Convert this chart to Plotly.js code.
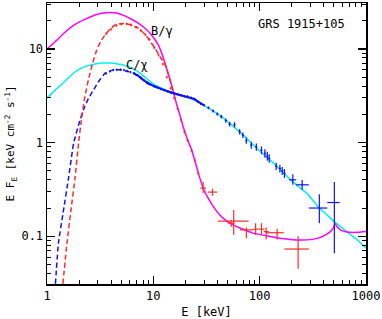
<!DOCTYPE html>
<html>
<head>
<meta charset="utf-8">
<script src="https://cdn.plot.ly/plotly-3.0.1.min.js"></script>
<style>html,body{margin:0;padding:0;background:#fff}#plot{width:382px;height:319px}</style>
</head>
<body>
<div id="plot"></div>
<script>
// ---- model curves ----
var magentaX = [1, 1.2, 1.45, 1.71, 2.0, 2.3, 2.84, 3.4, 3.9, 4.5, 5.4, 6.3, 7.2, 8.2, 9.3, 10.2, 11.1, 12.0, 12.9, 14.0, 15.4, 16.5, 17.7, 19, 20.8, 22.9, 24.5, 26.4, 28, 30, 32.5, 36.4, 42, 48.7, 56, 68, 86.5, 123, 170, 237, 300, 360, 420, 470, 495, 511, 535, 570, 602, 700, 850, 1000];
var magentaY = [10, 12, 14.8, 17.3, 19.3, 20.8, 23, 24.2, 24.5, 24.2, 22.5, 20.6, 18.8, 16.9, 14.7, 12.9, 11.1, 9.0, 7.0, 5.2, 3.5, 2.6, 2.0, 1.5, 1.1, 0.84, 0.65, 0.48, 0.385, 0.31, 0.26, 0.21, 0.170, 0.146, 0.132, 0.12, 0.108, 0.1, 0.094, 0.091, 0.092, 0.096, 0.104, 0.114, 0.124, 0.137, 0.126, 0.118, 0.114, 0.11, 0.11, 0.112];

var cyanX = [1, 1.2, 1.5, 1.84, 2.3, 2.84, 3.4, 3.9, 4.5, 5.0, 5.8, 6.7, 7.5, 8.5, 10.3, 12.0, 14.8, 18, 22, 30, 45, 70, 93, 140, 205, 280, 364, 440, 504, 600, 700, 850, 1000];
var cyanY = [3.0, 3.65, 4.6, 5.7, 6.5, 6.9, 7.05, 7.05, 6.95, 6.8, 6.46, 6.0, 5.5, 4.9, 4.13, 3.8, 3.45, 3.2, 2.98, 2.5, 1.85, 1.2, 0.88, 0.58, 0.38, 0.285, 0.2, 0.165, 0.143, 0.122, 0.106, 0.089, 0.0746];

var redDashX = [1.41, 1.54, 1.68, 1.84, 1.98, 2.1, 2.25, 2.45, 2.7, 2.94, 3.2, 3.52, 3.9, 4.37, 4.9, 5.4, 6.2, 7.2, 8.2, 9.0, 10.3, 11.5, 12.9, 14.0, 15.4];
var redDashY = [0.031, 0.084, 0.19, 0.43, 0.985, 1.7, 2.9, 4.67, 7.2, 9.76, 12.0, 14.1, 16.2, 18.0, 18.6, 18.7, 18.0, 16.7, 14.6, 12.8, 10.3, 8.3, 6.8, 5.1, 3.5];

var blueDashX = [1.2, 1.28, 1.43, 1.6, 1.78, 2.0, 2.2, 2.45, 2.74, 3.1, 3.52, 4.2, 4.86, 5.8, 6.5, 7.2, 8.0, 9.0, 10.3, 12.0, 14.8];
var blueDashY = [0.031, 0.084, 0.19, 0.43, 0.985, 1.6, 2.23, 2.95, 3.65, 4.6, 5.5, 5.97, 6.0, 5.75, 5.5, 5.1, 4.65, 4.2, 3.95, 3.7, 3.45];

// ---- data: C/chi (blue) ----
var blueSparseX = [3.6, 3.9, 4.2, 4.5, 4.9, 5.3, 5.7, 6.1];
var blueSparseY = [5.45, 5.75, 5.95, 6.0, 6.0, 5.95, 5.8, 5.65];
var blueDenseX = [6.6, 7.1, 7.6, 8.2, 8.8, 9.5, 10.2, 11, 11.8, 12.7, 13.6, 14.6, 15.7, 16.9, 18.2, 19.6, 21, 22.6, 24.3, 26.1, 28, 30];
var blueDenseY = [5.5, 5.25, 4.95, 4.6, 4.35, 4.15, 4.0, 3.85, 3.72, 3.62, 3.52, 3.43, 3.35, 3.28, 3.2, 3.12, 3.1, 3.02, 2.92, 2.75, 2.6, 2.5];

var blueHiX = [33, 36.4, 40, 43.6, 48, 52.2, 58, 64.8, 69.5, 74.9, 83.4, 93, 104, 112, 118, 123, 143, 155, 163, 171, 205, 251, 364, 504];
var blueHiY = [2.35, 2.18, 2.02, 1.89, 1.72, 1.57, 1.55, 1.31, 1.2, 1.05, 0.94, 0.9, 0.83, 0.77, 0.72, 0.68, 0.56, 0.53, 0.5, 0.47, 0.40, 0.354, 0.2, 0.229];
var blueHiXm = [0.8, 0.9, 1.0, 1.0, 1.1, 1.2, 1.3, 1.5, 1.6, 1.7, 1.9, 2.1, 2.3, 2.5, 2.6, 2.7, 3.2, 3.5, 3.7, 3.9, 16, 32, 74, 72];
var blueHiXp = [0.8, 0.9, 1.0, 1.0, 1.1, 1.2, 1.3, 1.5, 1.6, 1.7, 1.9, 2.1, 2.3, 2.5, 2.6, 2.7, 3.2, 3.5, 3.7, 3.9, 16, 39, 68, 61];
var blueHiYm = [0.08, 0.08, 0.08, 0.08, 0.09, 0.09, 0.1, 0.09, 0.08, 0.08, 0.08, 0.08, 0.08, 0.08, 0.08, 0.07, 0.05, 0.05, 0.05, 0.05, 0.046, 0.04, 0.062, 0.163];
var blueHiYp = [0.08, 0.08, 0.08, 0.08, 0.09, 0.09, 0.1, 0.09, 0.08, 0.08, 0.08, 0.08, 0.08, 0.08, 0.08, 0.07, 0.05, 0.05, 0.05, 0.05, 0.06, 0.045, 0.08, 0.15];

// ---- data: B/gamma (red) ----
var redLoX = [3.6, 4.0, 4.5, 5.0, 5.6, 6.2, 6.9, 7.6, 8.4, 9.2, 10.2, 11.2, 12.3, 13.4, 14.6, 15.7, 16.9, 18.2, 19.6, 21, 22.9, 24.5, 26.4];
var redLoY = [14.5, 16.2, 17.8, 18.4, 18.5, 18.0, 17.0, 15.8, 14.2, 12.6, 10.3, 8.6, 6.9, 5.0, 3.8, 3.0, 2.3, 1.75, 1.3, 1.05, 0.82, 0.65, 0.47];

var redHiX = [29.4, 36, 54, 57, 75, 91.6, 104, 115, 146, 230];
var redHiY = [0.326, 0.296, 0.138, 0.145, 0.117, 0.119, 0.119, 0.112, 0.109, 0.073];
var redHiXm = [1.7, 3.5, 4, 16.5, 9.9, 5.1, 6, 6, 32, 59];
var redHiXp = [1.9, 3.9, 4, 21.6, 11.6, 5.1, 7, 7, 22, 60];
var redHiYm = [0.036, 0.026, 0.012, 0.041, 0.022, 0.015, 0.015, 0.02, 0.017, 0.028];
var redHiYp = [0.054, 0.024, 0.012, 0.045, 0.007, 0.019, 0.019, 0.012, 0.011, 0.027];

var xMajor = [1, 10, 100, 1000];
var xMajorText = ['1', '10', '100', '1000'];
var yMajor = [0.1, 1, 10];
var yMajorText = ['0.1', '1', '10'];

var RED = '#ff2a2a', BLUE = '#1010ff', MAG = '#ff00ff', CYAN = '#00f0f0';
var FONT = 'DejaVu Sans Mono, Liberation Mono, monospace';

function line(x, y, color, dash) {
  return {x: x, y: y, type: 'scatter', mode: 'lines', line: {color: color, width: 1.5, dash: dash || 'solid', shape: 'spline', smoothing: 0.4}, hoverinfo: 'none', showlegend: false};
}
function pts(x, y, color, ex, ey, joined) {
  return {x: x, y: y, type: 'scatter', mode: joined ? 'lines' : 'markers', line: {color: color, width: 2}, marker: {size: 1, color: color}, error_x: ex, error_y: ey, hoverinfo: 'none', showlegend: false};
}
function pct(v, c, t) { return {type: 'percent', value: v, color: c, thickness: t, width: 0}; }
function arr(p, m, c) { return {type: 'data', symmetric: false, array: p, arrayminus: m, color: c, thickness: 1.2, width: 0}; }

var traces = [
  line(cyanX, cyanY, CYAN),
  line(magentaX, magentaY, MAG),
  line(blueDashX, blueDashY, BLUE, '5px,3px'),
  line(redDashX, redDashY, RED, '5px,3px'),
  pts(blueSparseX, blueSparseY, BLUE, pct(2, BLUE, 1), pct(3, BLUE, 1), false),
  pts(blueDenseX, blueDenseY, BLUE, pct(2, BLUE, 1.2), pct(3, BLUE, 1.2), true),
  pts(blueHiX, blueHiY, BLUE, arr(blueHiXp, blueHiXm, BLUE), arr(blueHiYp, blueHiYm, BLUE)),
  pts(redLoX, redLoY, RED, pct(2.5, RED, 1), pct(3.5, RED, 1), false),
  pts(redHiX, redHiY, RED, arr(redHiXp, redHiXm, RED), arr(redHiYp, redHiYm, RED))
];

var xMinor = [2,3,4,5,6,7,8,9,20,30,40,50,60,70,80,90,200,300,400,500,600,700,800,900];
var yMinor = [0.04,0.05,0.06,0.07,0.08,0.09,0.2,0.3,0.4,0.5,0.6,0.7,0.8,0.9,2,3,4,5,6,7,8,9,20,30];

var layout = {
  width: 382, height: 319,
  margin: {l: 47, r: 16, t: 3, b: 35},
  paper_bgcolor: '#fff', plot_bgcolor: '#fff',
  font: {family: FONT, size: 12, color: '#000'},
  xaxis: {
    type: 'log', range: [0, 3], showgrid: false, zeroline: false,
    showline: true, linecolor: '#000', linewidth: 1.5, mirror: 'allticks',
    ticks: 'inside', ticklen: 8, tickwidth: 1.2, tickcolor: '#000',
    tickmode: 'array', tickvals: xMajor, ticktext: xMajorText,
    tickfont: {family: FONT, size: 12},
    minor: {ticks: 'inside', ticklen: 4, tickwidth: 1, tickcolor: '#000', tickmode: 'array', tickvals: xMinor, showgrid: false},
    title: {text: 'E [keV]', font: {family: FONT, size: 12}, standoff: 6}
  },
  yaxis: {
    type: 'log', range: [-1.51, 1.49], showgrid: false, zeroline: false,
    showline: true, linecolor: '#000', linewidth: 1.5, mirror: 'allticks',
    ticks: 'inside', ticklen: 8, tickwidth: 1.2, tickcolor: '#000',
    tickmode: 'array', tickvals: yMajor, ticktext: yMajorText,
    tickfont: {family: FONT, size: 12},
    minor: {ticks: 'inside', ticklen: 4, tickwidth: 1, tickcolor: '#000', tickmode: 'array', tickvals: yMinor, showgrid: false},
    title: {text: 'E F<sub>E</sub> [keV cm<sup>-2</sup> s<sup>-1</sup>]', font: {family: FONT, size: 11}, standoff: 4}
  },
  annotations: [
    {xref: 'paper', yref: 'paper', x: 0.94, y: 0.925, xanchor: 'right', yanchor: 'middle', text: 'GRS 1915+105', showarrow: false, font: {family: FONT, size: 12}},
    {xref: 'paper', yref: 'paper', x: 0.32, y: 0.9, xanchor: 'left', yanchor: 'middle', text: 'B/γ', showarrow: false, font: {family: FONT, size: 12}},
    {xref: 'paper', yref: 'paper', x: 0.24, y: 0.78, xanchor: 'left', yanchor: 'middle', text: 'C/χ', showarrow: false, font: {family: FONT, size: 12}}
  ]
};

Plotly.newPlot('plot', traces, layout, {staticPlot: true, displayModeBar: false});
</script>
</body>
</html>
